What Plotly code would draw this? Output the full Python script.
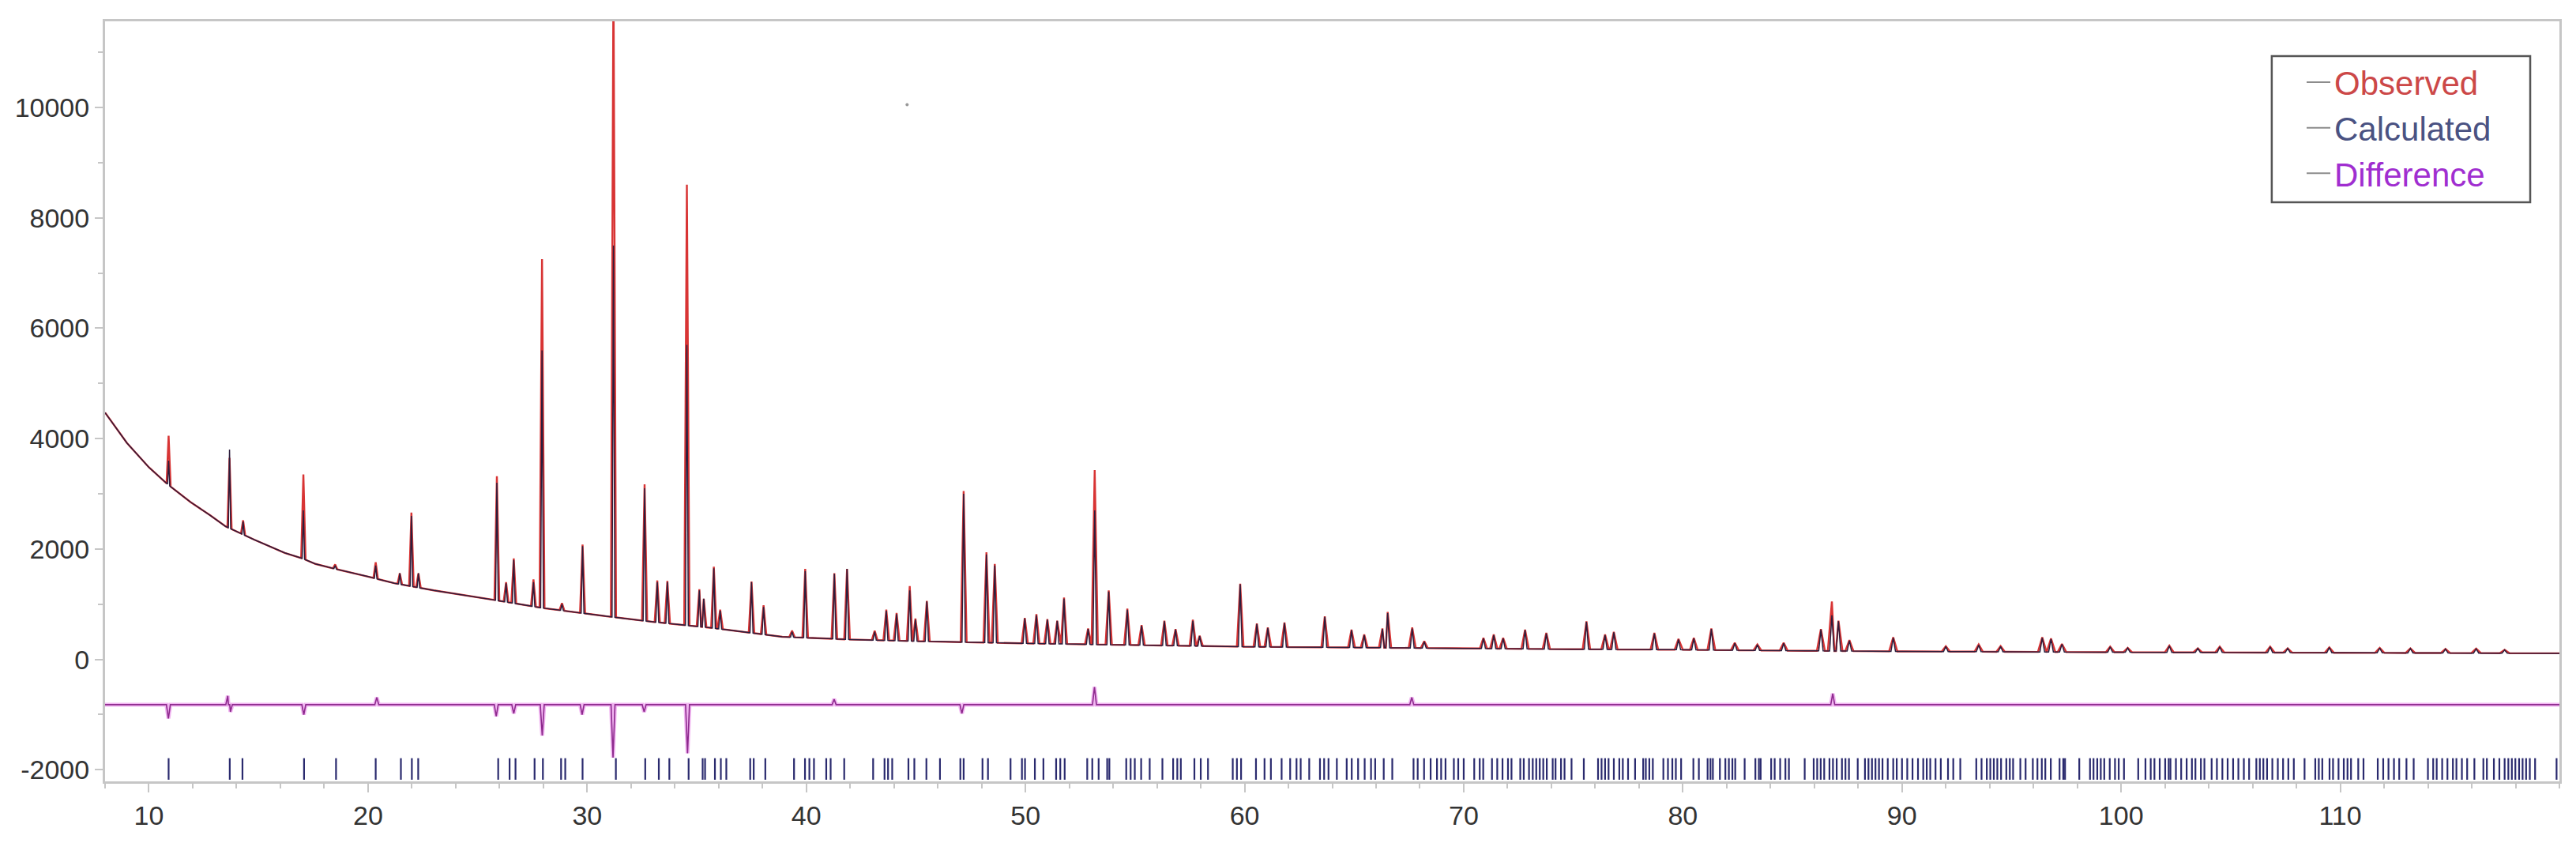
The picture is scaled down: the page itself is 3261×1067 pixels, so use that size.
import numpy as np
import plotly.graph_objects as go

# ---------------- data ----------------
# background (2theta, counts)
bg_x = [8, 9, 10, 10.8, 11.9, 12.8, 13.5, 14.8, 16.2, 17.0, 17.6, 18.5, 20, 21.2, 23, 25.7,
        28, 30.9, 33, 35.7, 38.9, 42, 46.2, 50, 55, 60, 65, 70, 75, 80, 86, 90, 100, 110, 120]
bg_y = [4470, 3920, 3480, 3190, 2850, 2610, 2410, 2170, 1930, 1830, 1730, 1640, 1500, 1380, 1250, 1080,
        930, 780, 680, 570, 410, 360, 320, 290, 260, 230, 215, 200, 185, 175, 155, 145, 130, 120, 110]

# reflections: position, observed top, calculated top
peak_pos = [10.9, 13.68, 14.3, 17.05, 18.5, 20.35, 21.45, 21.98, 22.3, 25.88, 26.3, 26.65, 27.55, 27.94,
            28.85, 29.79, 31.2, 32.62, 33.2, 33.66, 34.55, 35.12, 35.32, 35.78, 36.07, 37.5, 38.05,
            39.35, 39.95, 41.28, 41.86, 43.12, 43.65, 44.12, 44.72, 44.98, 45.5, 47.18, 48.22, 48.6,
            49.97, 50.5, 51.0, 51.45, 51.76, 52.86, 53.16, 53.8, 54.65, 55.3, 56.34, 56.85, 57.64,
            57.95, 59.8, 60.56, 61.06, 61.82, 63.66, 64.88, 65.46, 66.29, 66.53, 67.65, 68.2, 70.9,
            71.37, 71.8, 72.8, 73.77, 75.6, 76.45, 76.85, 78.7, 79.8, 80.5, 81.3, 82.37, 83.4, 84.6,
            86.3, 86.8, 87.1, 87.6, 89.6, 92.0, 93.5, 94.5, 96.4, 96.8, 97.3, 99.5, 100.3, 102.2,
            103.5, 104.5, 106.8, 107.6, 109.5, 111.8, 113.2, 114.8, 116.2, 117.5]
peak_obs = [4050, 3650, 2520, 3350, 1720, 1760, 1560, 2660, 1560, 3320, 1400, 1830, 1450, 7250,
            1020, 2080, 12500, 3170, 1430, 1420, 8600, 1270, 1100, 1680, 900, 1410, 980,
            520, 1640, 1560, 1640, 520, 900, 840, 1330, 740, 1060, 3050, 1940, 1730,
            750, 820, 730, 700, 1120, 560, 3430, 1250, 920, 620, 700, 550, 720,
            430, 1370, 650, 580, 670, 780, 540, 450, 560, 860, 580, 330, 390,
            450, 390, 540, 480, 690, 450, 500, 480, 370, 390, 560, 300, 270, 300,
            550, 1050, 700, 350, 400, 240, 270, 240, 400, 380, 280, 230, 210, 250,
            200, 230, 230, 200, 220, 210, 200, 190, 195, 175]
peak_calc = [3600, 3800, 2500, 2700, 1700, 1700, 1560, 2600, 1560, 3200, 1380, 1800, 1400, 5600,
             1000, 2050, 7500, 3100, 1400, 1400, 5700, 1250, 1100, 1650, 880, 1400, 950,
             500, 1600, 1550, 1640, 500, 880, 820, 1250, 720, 1050, 3000, 1900, 1700,
             740, 800, 720, 700, 1100, 550, 2700, 1230, 900, 610, 690, 540, 700,
             420, 1360, 640, 570, 660, 770, 530, 440, 550, 840, 560, 320, 380,
             440, 380, 530, 470, 680, 440, 490, 470, 360, 380, 550, 290, 265, 290,
             540, 800, 690, 340, 390, 235, 260, 235, 390, 370, 275, 225, 205, 245,
             200, 225, 225, 200, 215, 205, 195, 185, 190, 170]

# difference curve: level and spikes
diff_level = -820
diff_x = [10.89, 13.6, 13.72, 17.07, 20.4, 25.85, 26.65, 27.95, 29.77, 31.18, 32.6, 34.58,
          41.27, 47.1, 53.15, 67.63, 86.84]
diff_y = [-1070, -660, -950, -1000, -690, -1030, -980, -1380, -1000, -1780, -950, -1700,
          -720, -980, -500, -690, -620]

# Bragg reflection positions
bragg = [10.9, 13.69, 14.27, 17.08, 18.54, 20.35, 21.5, 22.0, 22.29, 25.94, 26.46, 26.73, 27.6, 27.98,
         28.81, 29.0, 29.79, 31.31, 32.65, 33.27, 33.75, 34.63, 35.27, 35.38, 35.83, 36.1, 36.35,
         37.44, 37.6, 38.13, 39.44, 39.94, 40.14, 40.35, 40.91, 41.11, 41.73, 43.05, 43.57, 43.73,
         43.92, 44.66, 44.93, 45.48, 46.1, 47.03, 47.18, 48.04, 48.29, 49.32, 49.84, 49.98, 50.43,
         50.82, 51.4, 51.59, 51.79, 52.82, 53.05, 53.34, 53.73, 53.83, 54.6, 54.8, 54.99, 55.28,
         55.67, 56.25, 56.74, 56.93, 57.09, 57.71, 58.0, 58.33, 59.46, 59.65, 59.84, 60.52, 60.91,
         61.2, 61.69, 62.08, 62.37, 62.56, 62.95, 63.44, 63.63, 63.83, 64.21, 64.66, 64.89, 65.18,
         65.48, 65.77, 65.96, 66.35, 66.74, 67.71, 67.9, 68.19, 68.49, 68.78, 68.97, 69.17, 69.55,
         69.75, 70.0, 70.48, 70.73, 70.89, 71.29, 71.53, 71.77, 72.02, 72.18, 72.58, 72.74, 72.98,
         73.15, 73.31, 73.47, 73.63, 73.79, 74.06, 74.19, 74.44, 74.6, 74.92, 75.48, 76.13, 76.29,
         76.45, 76.61, 76.85, 77.1, 77.26, 77.5, 77.82, 78.19, 78.31, 78.47, 78.63, 79.11, 79.32,
         79.52, 79.68, 79.92, 80.48, 80.73, 81.13, 81.26, 81.37, 81.69, 81.94, 82.1, 82.26, 82.39,
         82.82, 83.31, 83.47, 83.55, 84.03, 84.19, 84.44, 84.68, 84.84, 85.56, 85.97, 86.13, 86.29,
         86.45, 86.69, 86.85, 87.02, 87.26, 87.42, 87.58, 87.98, 88.31, 88.47, 88.63, 88.79, 88.95,
         89.11, 89.35, 89.6, 89.76, 90.0, 90.24, 90.48, 90.73, 90.97, 91.13, 91.29, 91.53, 91.77,
         92.1, 92.34, 92.66, 93.39, 93.63, 93.87, 94.03, 94.19, 94.35, 94.52, 94.76, 94.92, 95.07,
         95.4, 95.64, 95.97, 96.18, 96.38, 96.54, 96.79, 97.19, 97.36, 97.44, 98.09, 98.58, 98.74,
         98.91, 99.07, 99.23, 99.48, 99.72, 99.89, 100.13, 100.78, 101.11, 101.35, 101.52, 101.76,
         102.01, 102.17, 102.25, 102.5, 102.74, 102.99, 103.23, 103.39, 103.64, 103.8, 104.13,
         104.37, 104.62, 104.86, 105.11, 105.35, 105.6, 105.84, 106.17, 106.33, 106.49, 106.66,
         106.9, 107.15, 107.39, 107.63, 107.88, 108.37, 108.86, 109.02, 109.18, 109.51, 109.67,
         109.92, 110.16, 110.33, 110.49, 110.82, 111.06, 111.71, 111.96, 112.2, 112.45, 112.69,
         113.02, 113.35, 114.0, 114.24, 114.4, 114.65, 114.89, 115.14, 115.3, 115.55, 115.79,
         116.12, 116.53, 116.69, 117.01, 117.26, 117.5, 117.67, 117.83, 117.99, 118.16, 118.32,
         118.48, 118.65, 118.89, 119.87]
bragg_top = -1790
bragg_bottom = -2180

stray_x = [44.6]
stray_y = [10050]

x_tickvals = [10, 20, 30, 40, 50, 60, 70, 80, 90, 100, 110]
x_ticktext = ["10", "20", "30", "40", "50", "60", "70", "80", "90", "100", "110"]
y_tickvals = [-2000, 0, 2000, 4000, 6000, 8000, 10000]
y_ticktext = ["-2000", "0", "2000", "4000", "6000", "8000", "10000"]


# ---------------- build polylines ----------------
def profile(tops, width_scale):
    hws = [(0.08 + 0.0012 * p) * width_scale for p in peak_pos]
    pts = []
    for bx, by in zip(bg_x, bg_y):
        inside = any(abs(bx - p) < h for p, h in zip(peak_pos, hws))
        if not inside:
            pts.append((bx, by))
    for p, t, h in zip(peak_pos, tops, hws):
        fl, fr = np.interp([p - h, p + h], bg_x, bg_y)
        pts += [(p - h, fl), (p, t), (p + h, fr)]
    pts.sort(key=lambda v: v[0])
    return [v[0] for v in pts], [v[1] for v in pts]


obs_x, obs_y = profile(peak_obs, 1.0)
calc_x, calc_y = profile(peak_calc, 0.55)

d_pts = [(bg_x[0], diff_level), (bg_x[-1], diff_level)]
for dx, dy in zip(diff_x, diff_y):
    d_pts += [(dx - 0.09, diff_level), (dx, dy), (dx + 0.09, diff_level)]
d_pts.sort(key=lambda v: v[0])
dif_x = [v[0] for v in d_pts]
dif_y = [v[1] for v in d_pts]

tick_x, tick_y = [], []
for b in bragg:
    tick_x += [b, b, None]
    tick_y += [bragg_top, bragg_bottom, None]

# ---------------- figure ----------------
FONT = "Liberation Sans, Arial, sans-serif"
fig = go.Figure()

fig.add_trace(go.Scatter(x=tick_x, y=tick_y, mode="lines",
                         line=dict(color="#2a2a6e", width=2.2), showlegend=False, hoverinfo="skip"))
fig.add_trace(go.Scatter(x=dif_x, y=dif_y, mode="lines",
                         line=dict(color="rgba(230,120,230,0.55)", width=5), showlegend=False, hoverinfo="skip"))
fig.add_trace(go.Scatter(x=dif_x, y=dif_y, mode="lines",
                         line=dict(color="#8e2a8e", width=1.6), showlegend=False))
fig.add_trace(go.Scatter(x=obs_x, y=obs_y, mode="lines",
                         line=dict(color="#d83434", width=2.4), showlegend=False))
fig.add_trace(go.Scatter(x=calc_x, y=calc_y, mode="lines",
                         line=dict(color="#2c1d3c", width=1.5), showlegend=False))
fig.add_trace(go.Scatter(x=stray_x, y=stray_y, mode="markers",
                         marker=dict(color="#999999", size=4), showlegend=False))

legend_names = ["<span style='color:#cc4848'>Observed</span>",
                "<span style='color:#4a5282'>Calculated</span>",
                "<span style='color:#a02ed0'>Difference</span>"]
for nm in legend_names:
    fig.add_trace(go.Scatter(x=[None], y=[None], mode="lines", name=nm,
                             line=dict(color="#8c8c8c", width=2)))

axis_common = dict(showgrid=False, zeroline=False, showline=True, linecolor="#c6c6c6",
                   linewidth=3, mirror=True, ticks="outside", tickcolor="#c6c6c6", tickwidth=2,
                   tickfont=dict(family=FONT, size=34, color="#333333"))

fig.update_xaxes(range=[8, 120], tickmode="array", tickvals=x_tickvals, ticktext=x_ticktext,
                 ticklen=11,
                 minor=dict(tickmode="linear", tick0=0, dtick=2, ticklen=6, tickcolor="#c6c6c6",
                            tickwidth=2, ticks="outside"),
                 **axis_common)
fig.update_yaxes(range=[-2210, 11560], tickmode="array", tickvals=y_tickvals, ticktext=y_ticktext,
                 ticklen=10,
                 minor=dict(tickmode="linear", tick0=0, dtick=1000, ticklen=6, tickcolor="#c6c6c6",
                            tickwidth=2, ticks="outside"),
                 **axis_common)

# legend frame (drawn as a box so its padding matches the original)
fig.add_shape(type="rect", xref="paper", yref="paper",
              x0=0.8828, x1=0.9881, y0=0.762, y1=0.9543,
              line=dict(color="#555555", width=2.5), fillcolor="white", layer="above")

fig.update_layout(
    width=3261, height=1067,
    margin=dict(l=133, r=21, t=27, b=78),
    paper_bgcolor="white", plot_bgcolor="white",
    font=dict(family=FONT),
    showlegend=True,
    legend=dict(x=0.8954, y=0.955, xanchor="left", yanchor="top",
                bgcolor="rgba(0,0,0,0)", borderwidth=0,
                font=dict(family=FONT, size=42), tracegroupgap=0, itemwidth=30),
)

fig.write_html("out.html", config={"displayModeBar": False},
               post_script="document.body.style.margin='0';document.body.style.overflow='hidden';")
